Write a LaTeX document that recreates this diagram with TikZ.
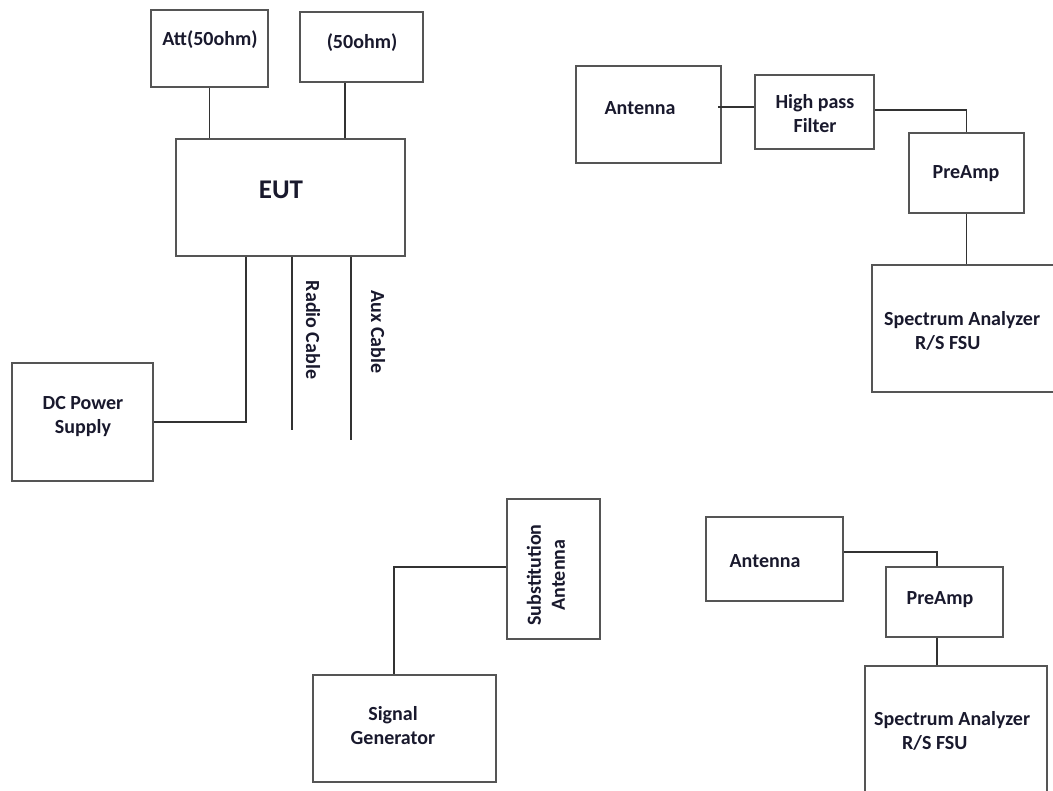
\documentclass[tikz,border=0pt]{standalone}
\usepackage{fontspec}
\setmainfont{Carlito}
\usepackage{xcolor}
\usetikzlibrary{positioning}
\definecolor{boxgray}{RGB}{85,85,85}
\definecolor{wiregray}{RGB}{50,50,50}
\definecolor{inkblue}{RGB}{25,25,45}

\begin{document}
\begin{tikzpicture}[x=1pt, y=-1pt]
            \tikzstyle{box}=[shape=rectangle, draw=boxgray, line width=1.8pt, inner sep=0pt];
            \tikzstyle{txt}=[text=inkblue, font=\bfseries\fontsize{20}{24}\selectfont, align=center, inner sep=0pt];
            \tikzstyle{wire}=[draw=wiregray, line width=1.5pt];

            \useasboundingbox (0,0) rectangle (1053,791);

            % EUT setup
            \node[box, minimum width=117pt, minimum height=77pt] (att) at (209.5,48.5) {};
            \node[txt] (attlbl) at (210,40) {Att(50ohm)};
            \node[box, minimum width=123pt, minimum height=70pt] (term) at (361.5,47) {};
            \node[txt] (termlbl) at (362,43) {(50ohm)};
            \node[box, minimum width=229pt, minimum height=117pt] (eut) at (290.5,197.5) {};
            \node[txt, font=\bfseries\fontsize{27}{30}\selectfont] (eutlbl) at (281,190) {EUT};
            \node[box, minimum width=141pt, minimum height=118pt] (dcps) at (82.5,422) {};
            \node[txt] (dcpslbl) at (83,417) {DC Power\\Supply};
            \coordinate (radioend) at (292,430);
            \coordinate (auxend) at (351,440);
            \node[txt, rotate=-90] (radiolbl) at (313,330) {Radio Cable};
            \node[txt, rotate=-90] (auxlbl) at (378,332) {Aux Cable};

            % receive chain with filter
            \node[box, minimum width=145pt, minimum height=97pt] (ant1) at (648.5,114.5) {};
            \node[txt] (ant1lbl) at (640,108) {Antenna};
            \node[box, minimum width=119pt, minimum height=74pt] (hpf) at (814.5,112) {};
            \node[txt] (hpflbl) at (815,114) {High pass\\Filter};
            \node[box, minimum width=115pt, minimum height=80pt] (pre1) at (966.5,173) {};
            \node[txt] (pre1lbl) at (966,174) {PreAmp};
            \node[box, minimum width=188pt, minimum height=127pt] (sa1) at (966,328.5) {};
            \node[txt, align=left, anchor=west] (sa1lbl) at (884,330.5) {Spectrum Analyzer\\\hspace*{31pt}R/S FSU};

            % substitution
            \node[box, minimum width=93pt, minimum height=140pt] (sub) at (553.5,569) {};
            \node[txt, rotate=90] (sublbl) at (546,575) {Substitution\\Antenna};
            \node[box, minimum width=183pt, minimum height=107pt] (sg) at (404.5,728.5) {};
            \node[txt] (sglbl) at (393,726) {Signal\\Generator};

            % receive chain without filter
            \node[box, minimum width=137pt, minimum height=84pt] (ant2) at (774.5,559) {};
            \node[txt] (ant2lbl) at (765,561) {Antenna};
            \node[box, minimum width=117pt, minimum height=70pt] (pre2) at (944.5,602) {};
            \node[txt] (pre2lbl) at (940,600) {PreAmp};
            \node[box, minimum width=182pt, minimum height=134pt] (sa2) at (956,733) {};
            \node[txt, align=left, anchor=west] (sa2lbl) at (874,731) {Spectrum Analyzer\\\hspace*{28pt}R/S FSU};

            \draw[wire]
                (att.south) -- (att.south |- eut.north)
                ([xshift=-16.5pt]term.south) -- ([xshift=-16.5pt]term.south |- eut.north)
                ([xshift=-44.5pt]eut.south) |- (dcps.east)
                (radioend |- eut.south) -- (radioend)
                (auxend |- eut.south) -- (auxend)
            ;

            \draw[wire]
                ([yshift=5pt]hpf.west) -- ([yshift=5pt,xshift=-4pt]hpf.west -| ant1.east)
                ([yshift=2pt]hpf.east) -| (pre1.north)
                (pre1.south) -- (pre1.south |- sa1.north)
            ;

            \draw[wire]
                ([yshift=2pt]sub.west) -| ([xshift=-10.5pt]sg.north)
                ([yshift=7pt]ant2.east) -| ([xshift=-7.5pt]pre2.north)
                ([xshift=-7.5pt]pre2.south) -- ([xshift=-7.5pt]pre2.south |- sa2.north)
            ;
\end{tikzpicture}
\end{document}
